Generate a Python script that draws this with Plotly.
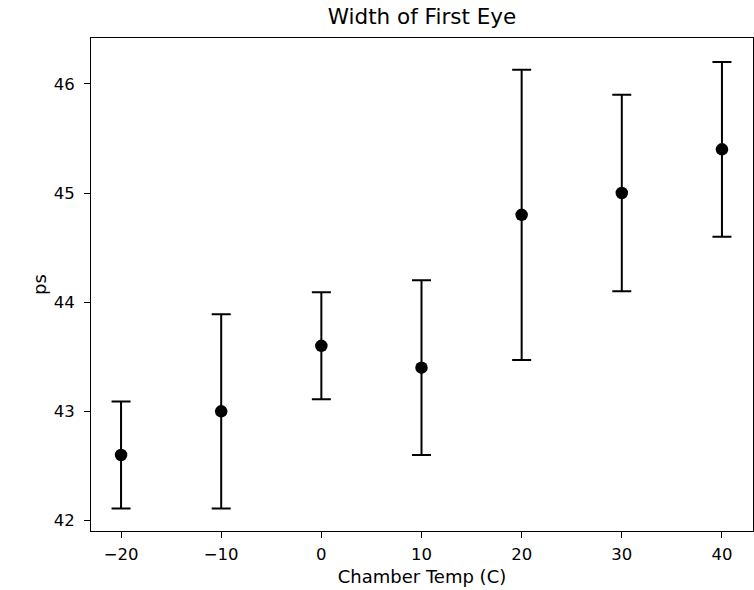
import plotly.graph_objects as go

temps = [-20, -10, 0, 10, 20, 30, 40]
width_ps = [42.6, 43.0, 43.6, 43.4, 44.8, 45.0, 45.4]
err_ps = [0.49, 0.89, 0.49, 0.80, 1.33, 0.90, 0.80]
x_ticks = [-20, -10, 0, 10, 20, 30, 40]
y_ticks = [42, 43, 44, 45, 46]

FONT = "DejaVu Sans"
TICK_SIZE = 16.5
LABEL_SIZE = 18

fig = go.Figure()
fig.add_trace(go.Scatter(
    x=temps, y=width_ps, mode="markers",
    marker=dict(color="black", size=12.5),
    error_y=dict(type="data", array=err_ps, visible=True,
                 color="black", thickness=2, width=9.5),
    showlegend=False,
))

axis_common = dict(
    showgrid=False, zeroline=False, showline=True, linecolor="black",
    linewidth=1, mirror=True, ticks="outside", ticklen=6, tickwidth=1,
    tickcolor="black", tickfont=dict(family=FONT, size=TICK_SIZE, color="black"),
)

fig.update_layout(
    width=754, height=590,
    margin=dict(l=91, r=1, t=38, b=59),
    paper_bgcolor="white", plot_bgcolor="white",
    font=dict(family=FONT, color="black"),
    title=dict(text="Width of First Eye", x=422 / 754, xanchor="center",
               y=1 - 16 / 590, yanchor="middle",
               font=dict(family=FONT, size=21.5, color="black")),
    xaxis=dict(range=[-23, 43.1], tickvals=x_ticks, ticklabelstandoff=2,
               title=dict(text="Chamber Temp (C)", standoff=7,
                          font=dict(family=FONT, size=LABEL_SIZE, color="black")),
               **axis_common),
    yaxis=dict(range=[41.904, 46.42], tickvals=y_ticks, ticklabelstandoff=6,
               title=dict(text="ps", standoff=2,
                          font=dict(family=FONT, size=LABEL_SIZE, color="black")),
               **axis_common),
)

fig.write_html("out.html", config={"displayModeBar": False},
               post_script="document.body.style.margin='0';")
